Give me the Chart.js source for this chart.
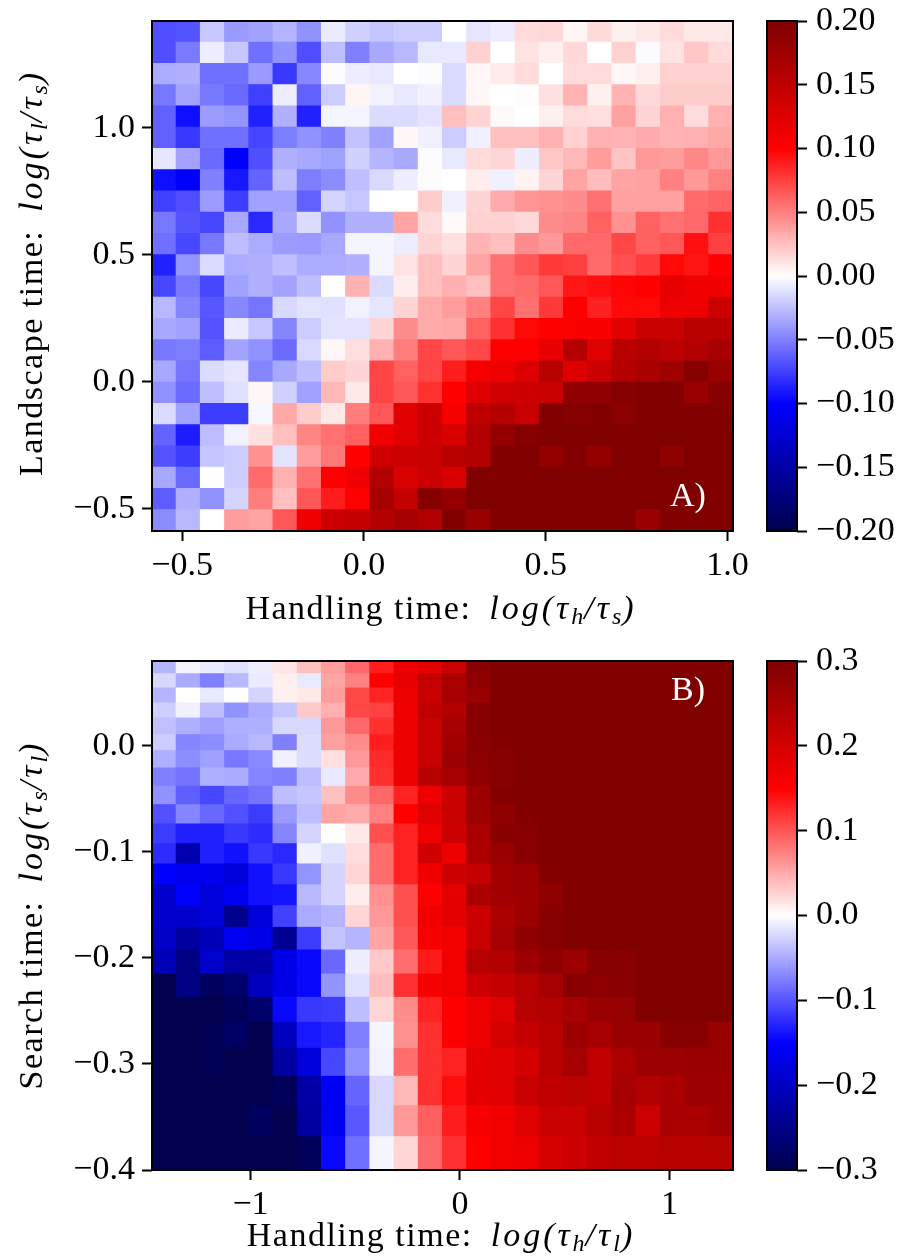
<!DOCTYPE html>
<html>
<head>
<meta charset="utf-8">
<style>
html,body{margin:0;padding:0;background:#fff;width:916px;height:1256px;overflow:hidden}
canvas{position:absolute;display:block}
</style>
<script src="https://cdn.jsdelivr.net/npm/chart.js@4/dist/chart.umd.min.js"></script>
</head>
<body>
<canvas id="heatA" style="left:0;top:0"></canvas>
<canvas id="barA" style="left:760px;top:0"></canvas>
<canvas id="heatB" style="left:0;top:640px"></canvas>
<canvas id="barB" style="left:760px;top:640px"></canvas>
<script>
// values in units of 0.01, rows listed from the top of the panel to the bottom
const panelAValues = [
[-6.9,-6.7,-2.2,-4,-3.7,-3,-4.3,-.8,-1.8,-2.3,-2,-2,0,-1,-.7,1.4,1.5,.4,1.4,.6,.9,1.4,.9,.9],
[-6.9,-5.2,-.7,-2.2,-5.6,-4.3,-6.9,-2.5,-5,-3.4,-2.8,-.9,-.9,1.8,0,1.1,.6,1.5,0,1.8,-.2,1.1,2.2,1.4],
[-3.3,-3.1,-5.6,-5.6,-4,-7.8,-4.7,-.1,-.7,-.9,0,-.1,-1.4,.3,.8,1.4,0,1.4,1.4,.3,.6,1.8,1.8,1.8],
[-5.3,-3.6,-5.3,-5.9,-7.5,-.7,-6.2,-2,.4,-.5,-.9,-.6,-1.4,.3,0,.1,1.2,3,.6,3,1.5,2,2,2],
[-6.2,-9.4,-3.9,-4.2,-8.7,-3.1,-8.7,-.4,-.4,-1.4,-1.4,-1.1,2.5,1.7,.2,0,.6,1.4,1.3,3.7,1.7,3.1,1.4,3.1],
[-6.2,-7.8,-5.6,-5.6,-7.3,-5.1,-4.3,-5,-2.4,-3.7,.3,-.6,-2,-.6,2.5,2.5,3.1,1.8,3.1,3,3.3,3,3.1,3.4],
[-1,-3.6,-5.9,-10,-6.9,-3.1,-3.4,-3.7,-1.8,-2.9,-3.4,-.1,-.9,1.4,1.6,-.7,2.2,2.8,3.9,2.3,4,3.9,4.7,4],
[-9.4,-10,-5,-9.1,-6.1,-2.6,-5.1,-4.5,-2.5,-1.5,-.7,-.1,0,.7,-.6,.5,1.7,3.6,2.6,3.6,3.7,5,4,5],
[-7.5,-6.9,-3.9,-7.6,-3.7,-3.7,-6.2,-1.7,-2.2,0,0,2,-.6,1.7,3.3,4.2,4.3,4.5,5.6,3.7,3.7,3.7,5.8,6.1],
[-5.3,-6.7,-7.2,-3.4,-8.4,-3.4,-1.4,-4.3,-3.1,-3.1,3.6,1.4,.2,1.8,1.8,1.5,4.5,4.8,6.2,4.3,6.2,5.6,5.9,8.1],
[-5.6,-7.2,-5.3,-2.6,-3.3,-3.9,-4,-3.4,-.4,-.4,-.7,1.7,1.2,3,2.5,4.5,4,5.9,5.9,7.2,6.2,6.6,9.4,7.5],
[-8.7,-4.2,-1.4,-3.3,-3.1,-2.5,-3.3,-3.3,-3.1,-.4,1.1,2.5,1.7,3.6,5.6,6.6,7.8,7.5,5.8,6.9,7.6,9.7,9.2,10],
[-7.2,-5.3,-7.2,-3.7,-3.1,-3.6,-2.6,0,3.1,-1.4,.7,2.5,3.1,2.5,5.6,5.8,6.6,9.1,9.4,9.8,10,11.8,11.2,11.2],
[-2.8,-4.8,-6.6,-4.7,-5.4,-1.5,-1.1,-1.2,-.5,-1,1.7,3.3,3.9,5,7.3,5.6,7.8,10,8.7,9.7,9.7,11.3,11.3,14],
[-3.4,-3.7,-6.7,-.8,-2.2,-4.8,-2,-1.1,-1.1,1.7,4.5,3.3,3.4,6.2,8.1,9.7,10,10.4,10.4,12.4,14.3,14.3,15.5,15.5],
[-5.3,-5.1,-6.4,-3.6,-4.3,-5.8,-1.5,.3,1.3,3.1,5.1,7.3,6.6,7.2,10,10,11.8,16,12.5,15.5,16,15.2,16,17],
[-3.4,-5.4,-1.4,-1,-4.8,-3.4,-2.6,2,1.7,7.3,6.2,7.3,8.9,10.6,11.3,12.6,15.5,12.6,14,15.8,16.6,17.5,19.4,18],
[-4.3,-5.8,-2.5,-1.2,.3,-1.8,-3.7,2.8,.9,7.3,6.6,8.1,10,12.6,13.7,14,14.3,18.7,18.7,19.4,19.7,19.7,17.9,19.4],
[-1.4,-3.7,-7.6,-7.6,-.3,3.4,2,.9,5.1,6.6,12.4,14,10.6,15.1,15.8,14.3,20,19.4,19.7,19,19.7,19.7,19.7,19.7],
[-6.1,-8.9,-2.6,-.5,1.2,2.5,4.8,5.6,6.2,11.2,12.4,14,13,16,18.4,19.4,20,20,20,20,20,20,20,20],
[-6.7,-7.6,-2.3,-2,4.3,-1.1,3.9,5.3,10,13.7,14,14.3,15.5,15.8,19.7,20,18.4,19.7,18.4,20,20,18.8,20,20],
[-3.4,-5.9,0,-2,5.8,3.1,5.6,10,11.2,16,13,14,13,20,20,20,20,20,20,20,20,20,20,20],
[-6.4,-3.1,-4.3,-1.7,5.1,2.5,6.6,8.9,10,17,14.6,19.4,18.4,20,20,20,20,20,20,20,20,20,20,20],
[-4.5,-2.8,0,3.9,3.6,6.6,11.2,14,14.6,15.8,17,16,19.7,18,20,20,20,20,20,20,18,20,20,20]
];
const panelBValues = [
[-4.4,-.6,-1.2,-1.8,-1,1.5,3.7,5.8,8.9,13.3,17,18,21.5,29,30,30,30,30,30,30,30,30,30,30],
[-2.3,-5,-7.5,-4.2,-1.2,.9,-1.3,5.4,7.5,15,17.9,22,25,28,30,30,30,30,30,30,30,30,30,30],
[-4.4,0,-1.3,0,-2.5,.9,1.3,5.8,10.8,13,17,21.5,25.5,27,30,30,30,30,30,30,30,30,30,30],
[-2.8,-.9,-3.9,-6.5,-5,-3.4,3.2,4.7,10.8,11.2,16.5,22.4,24,29,30,30,30,30,30,30,30,30,30,30],
[-3.7,-4.7,-5.6,-4.7,-4.7,-2.3,-2.3,6,8.9,12.2,17,21.5,25.5,29,30,30,30,30,30,30,30,30,30,30],
[-3,-7.2,-6.7,-5,-4.2,-7.5,-2,5.6,6.8,13.3,17,21.5,26,29,29.5,30,30,30,30,30,30,30,30,30],
[-4.7,-6.7,-5.6,-8,-7,-.9,-2,1.8,6,12.5,17,21.5,26.5,28.5,29,30,30,30,30,30,30,30,30,30],
[-7.5,-8.2,-4.7,-5,-7.2,-7.5,-3.9,-1.3,5,12.2,17,23.5,25.5,28,29,30,30,30,30,30,30,30,30,30],
[-6.5,-9.4,-10.8,-9,-8.2,-3.9,-3.4,3.7,6.8,9,13,17,21,26.5,29.5,30,30,30,30,30,30,30,30,30],
[-10.3,-7.2,-8.9,-10.3,-11.5,-6,-3.9,5.4,5,7.5,15,18.8,21.5,26.5,28,29.5,30,30,30,30,30,30,30,30],
[-11.5,-13.1,-13.1,-11.7,-12.4,-7.2,-2.5,0,1.3,10.3,13,16.5,21,24.8,29,29,30,30,30,30,30,30,30,30],
[-12.4,-21.7,-13.1,-14,-11.7,-12.6,-.9,-1.8,2,8.6,13,20.5,17,24.8,27,29,30,30,30,30,30,30,30,30],
[-15,-16.3,-16.4,-18,-14,-11.7,-6.3,-2.5,2.5,8.6,13,16.5,21,22,26,26.5,29.5,30,30,30,30,30,30,30],
[-19.3,-15,-18,-16,-14,-13.8,-4.2,-2.5,1.1,6.5,10.3,15,18,24.8,26,26.5,28,30,30,30,30,30,30,30],
[-19.3,-19.3,-18,-24.5,-18,-11.2,-5,-4.4,2.5,6,10.3,16.5,18,21,24.8,26.5,29,30,30,30,30,30,30,30],
[-19.8,-23,-21,-16,-17,-24,-11.5,-3.5,-4.4,5.4,9.8,16,16.5,21.5,25.5,28,29,30,30,30,30,30,30,30],
[-21,-25.5,-19.3,-22.5,-22.5,-17,-14.5,-8.9,-1,3.2,8.6,13.5,16.5,23.5,24,26.5,28,26.5,29,29,30,30,30,30],
[-30,-25.5,-28.5,-27.5,-20.5,-17,-14.5,-6.3,-1.8,3.9,12.2,16,16.5,21,22,23.5,25.5,29,28.5,29,30,30,30,30],
[-30,-30,-30,-28.8,-27.5,-14.5,-11.7,-11.5,-3.9,2.5,6.8,13,15,17,18.8,23.5,24,25.5,27,27.5,30,30,30,30],
[-30,-30,-29.3,-28,-30,-20.5,-13.6,-12.9,-7.5,-.6,6.5,12.2,15,17,20,22,23.5,26.5,25.5,27,27,29,29,27],
[-30,-30,-29.3,-30,-30,-23,-18,-10.8,-6.5,-.8,8.6,12.2,13,18,18.8,20,23.5,25.5,22.4,24.8,26.5,26.5,27,27],
[-30,-30,-30,-30,-30,-28.8,-22.5,-16,-9,-2.3,4.2,12.2,14.3,18,18.5,21.5,22.4,23,22.4,25.5,24,25,26.5,26.5],
[-30,-30,-30,-30,-28.5,-30,-23,-16,-9.8,-2.3,6,9.4,13.3,16,16.5,18.8,21.5,21.5,23.5,24.8,21,25,25,26],
[-30,-30,-30,-30,-30,-30,-28.8,-14.5,-8.4,-.6,2.5,8.9,12.2,15,16.5,17,20,21,22.4,23,23,23.5,23.5,23.5]
];
// horizontal and vertical extents of the two heatmaps
const panelAXRange = [-0.583, 1.015];
const panelAYRange = [-0.587, 1.42];
const panelBXRange = [-1.47, 1.303];
const panelBYEdges = [.08,.068,.0545,.0404,.0262,.0105,-.0046,-.0209,-.0382,-.0555,-.0737,-.0923,-.1114,-.131,-.1508,-.1712,-.1926,-.2152,-.2372,-.2608,-.2853,-.3117,-.3394,-.3686,-.4];
// ticks
const panelAXTicks = [-0.5, 0, 0.5, 1];
const panelAYTicks = [-0.5, 0, 0.5, 1];
const panelBXTicks = [-1, 0, 1];
const panelBYTicks = [-0.4, -0.3, -0.2, -0.1, 0];
const barATicks = [-0.2, -0.15, -0.1, -0.05, 0, 0.05, 0.1, 0.15, 0.2];
const barBTicks = [-0.3, -0.2, -0.1, 0, 0.1, 0.2, 0.3];
// colour range of each panel (in the same 0.01 units as the cells)
const panelALimit = 20;
const panelBLimit = 30;
// text
const labelAX = [['Handling time:','r'],['log(','i'],['τ','i'],['h','s'],['/','i'],['τ','i'],['s','s'],[')','i']];
const labelAY = [['Landscape time:','r'],['log(','i'],['τ','i'],['l','s'],['/','i'],['τ','i'],['s','s'],[')','i']];
const labelBX = [['Handling time:','r'],['log(','i'],['τ','i'],['h','s'],['/','i'],['τ','i'],['l','s'],[')','i']];
const labelBY = [['Search time:','r'],['log(','i'],['τ','i'],['s','s'],['/','i'],['τ','i'],['l','s'],[')','i']];

const SERIF = '"Liberation Serif", "Times New Roman", serif';
const TICK_PX = 34, LABEL_PX = 34;

// matplotlib "seismic"
const seismicStops = [[0,[0,0,76.5]],[0.25,[0,0,255]],[0.5,[255,255,255]],[0.75,[255,0,0]],[1,[127.5,0,0]]];
function seismic(t){
  t = Math.max(0, Math.min(1, t));
  for (let i = 0; i < seismicStops.length - 1; i++){
    const [a, ca] = seismicStops[i], [b, cb] = seismicStops[i+1];
    if (t <= b){
      const f = (t - a) / (b - a);
      return 'rgb(' + ca.map((c, k) => Math.round(c + (cb[k] - c) * f)).join(',') + ')';
    }
  }
}
function fmt(d){ return v => (v < 0 ? '\u2212' : '') + Math.abs(v).toFixed(d); }

const framePlugin = {
  id: 'frame',
  afterDatasetsDraw(c){
    const a = c.chartArea, x = c.ctx;
    x.save(); x.strokeStyle = '#000'; x.lineWidth = 2;
    x.strokeRect(a.left, a.top, a.right - a.left, a.bottom - a.top);
    x.restore();
  }
};
const runStyle = {
  r: {font: `${LABEL_PX}px ${SERIF}`, spacing: '1.5px', dy: 0},
  i: {font: `italic ${LABEL_PX}px ${SERIF}`, spacing: '3px', dy: 0},
  s: {font: `italic ${Math.round(LABEL_PX * 0.7)}px ${SERIF}`, spacing: '1px', dy: 5}
};
const richPlugin = {
  id: 'rich',
  afterDraw(c, args, o){
    const x = c.ctx;
    x.save();
    // axis labels assembled from mixed upright / italic / subscript runs
    (o.labels || []).forEach(l => {
      const gap = 18;
      let w = gap;
      l.segs.forEach(([t, k]) => { x.font = runStyle[k].font; x.letterSpacing = runStyle[k].spacing; w += x.measureText(t).width; });
      x.save();
      x.translate(l.x, l.y);
      x.rotate(l.rot || 0);
      x.fillStyle = '#000';
      x.textBaseline = 'alphabetic';
      x.textAlign = 'left';
      let p = -w / 2;
      l.segs.forEach(([t, k], i) => {
        x.font = runStyle[k].font;
        x.letterSpacing = runStyle[k].spacing;
        x.fillText(t, p, runStyle[k].dy);
        p += x.measureText(t).width + (i === 0 ? gap : 0);
      });
      x.restore();
    });
    x.letterSpacing = '0px';
    // panel letter
    if (o.letter){
      x.fillStyle = '#fff';
      x.font = `${LABEL_PX}px ${SERIF}`;
      x.textAlign = 'left';
      x.textBaseline = 'alphabetic';
      x.fillText(o.letter.text, o.letter.x, o.letter.y);
    }
    x.restore();
  }
};
Chart.register(framePlugin, richPlugin);

function setTicks(values){ return s => { s.ticks = values.map(v => ({value: v})); }; }

function heatmap(id, box, values, limit, xRange, yEdges, xTicks, yTicks, xFmt, yFmt, rich, titles){
  const el = document.getElementById(id);
  el.width = box.w; el.height = box.h;
  const nC = values[0].length;
  const dx = (xRange[1] - xRange[0]) / nC;
  const cells = [], colors = [];
  values.forEach((row, r) => row.forEach((v, c) => {
    cells.push({x: xRange[0] + (c + 0.5) * dx, y: [yEdges[r + 1], yEdges[r]], v: v / 100});
    colors.push(seismic((v / limit + 1) / 2));
  }));
  return new Chart(el, {
    type: 'bar',
    data: {datasets: [{data: cells, backgroundColor: colors, borderWidth: 0, barPercentage: 1, categoryPercentage: 1, inflateAmount: 0.5}]},
    options: {
      responsive: false, animation: false, events: [],
      layout: {padding: {top: box.top, right: box.w - box.right, left: 0, bottom: 0}},
      plugins: {legend: {display: false}, tooltip: {enabled: false}, rich},
      scales: {
        x: {type: 'linear', offset: false, min: xRange[0], max: xRange[1], afterBuildTicks: setTicks(xTicks),
            afterFit: s => { s.height = box.h - box.bottom; s.paddingLeft = 0; s.paddingRight = 0; },
            border: {display: false},
            grid: {offset: false, drawOnChartArea: false, tickLength: 10, tickWidth: 2, tickColor: '#000'},
            title: {display: false, text: titles[0]},
            ticks: {maxRotation: 0, autoSkip: false, padding: 5, color: '#000', font: {family: SERIF, size: TICK_PX}, callback: xFmt}},
        y: {type: 'linear', min: yEdges[yEdges.length - 1], max: yEdges[0], afterBuildTicks: setTicks(yTicks),
            afterFit: s => { s.width = box.left; s.paddingTop = 0; s.paddingBottom = 0; },
            border: {display: false},
            grid: {drawOnChartArea: false, tickLength: 10, tickWidth: 2, tickColor: '#000'},
            title: {display: false, text: titles[1]},
            ticks: {autoSkip: false, padding: 7, color: '#000', font: {family: SERIF, size: TICK_PX}, callback: yFmt}}
      }
    }
  });
}

function colorbar(id, box, limit, ticks, dec){
  const el = document.getElementById(id);
  el.width = box.w; el.height = box.h;
  return new Chart(el, {
    type: 'bar',
    data: {labels: [''], datasets: [{
      data: [[-limit, limit]], borderWidth: 0, barPercentage: 1, categoryPercentage: 1, inflateAmount: 0,
      backgroundColor: ctx => {
        const a = ctx.chart.chartArea;
        if (!a) return '#fff';
        const g = ctx.chart.ctx.createLinearGradient(0, a.bottom, 0, a.top);
        seismicStops.forEach(([t]) => g.addColorStop(t, seismic(t)));
        return g;
      }
    }]},
    options: {
      responsive: false, animation: false, events: [],
      layout: {padding: {top: box.top, left: box.left, bottom: box.h - box.bottom, right: 0}},
      plugins: {legend: {display: false}, tooltip: {enabled: false}},
      scales: {
        x: {display: false},
        y: {type: 'linear', position: 'right', min: -limit, max: limit, afterBuildTicks: setTicks(ticks),
            afterFit: s => { s.width = box.w - box.right; s.paddingTop = 0; s.paddingBottom = 0; },
            border: {display: false},
            grid: {drawOnChartArea: false, tickLength: 10, tickWidth: 2, tickColor: '#000'},
            ticks: {autoSkip: false, padding: 9, color: '#000', font: {family: SERIF, size: TICK_PX}, callback: fmt(dec)}}
      }
    }
  });
}

const panelAYEdges = panelAValues.map((_, i) => panelAYRange[1] - i * (panelAYRange[1] - panelAYRange[0]) / panelAValues.length).concat(panelAYRange[0]);

heatmap('heatA', {w: 760, h: 640, left: 152, right: 733, top: 21, bottom: 531},
  panelAValues, panelALimit, panelAXRange, panelAYEdges, panelAXTicks, panelAYTicks, fmt(1), fmt(1),
  {labels: [{segs: labelAX, x: 441, y: 619}, {segs: labelAY, x: 42, y: 273, rot: -Math.PI / 2}],
   letter: {text: 'A)', x: 670, y: 506}},
  ['Handling time: log(τh/τs)', 'Landscape time: log(τl/τs)']);
heatmap('heatB', {w: 760, h: 616, left: 152, right: 733, top: 21, bottom: 530},
  panelBValues, panelBLimit, panelBXRange, panelBYEdges, panelBXTicks, panelBYTicks, fmt(0), fmt(1),
  {labels: [{segs: labelBX, x: 441, y: 606}, {segs: labelBY, x: 42, y: 275, rot: -Math.PI / 2}],
   letter: {text: 'B)', x: 671, y: 60}},
  ['Handling time: log(τh/τl)', 'Search time: log(τs/τl)']);
colorbar('barA', {w: 156, h: 640, left: 7, right: 37, top: 21, bottom: 531}, 0.2, barATicks, 2);
colorbar('barB', {w: 156, h: 616, left: 7, right: 37, top: 21, bottom: 530}, 0.3, barBTicks, 1);
</script>
</body>
</html>
